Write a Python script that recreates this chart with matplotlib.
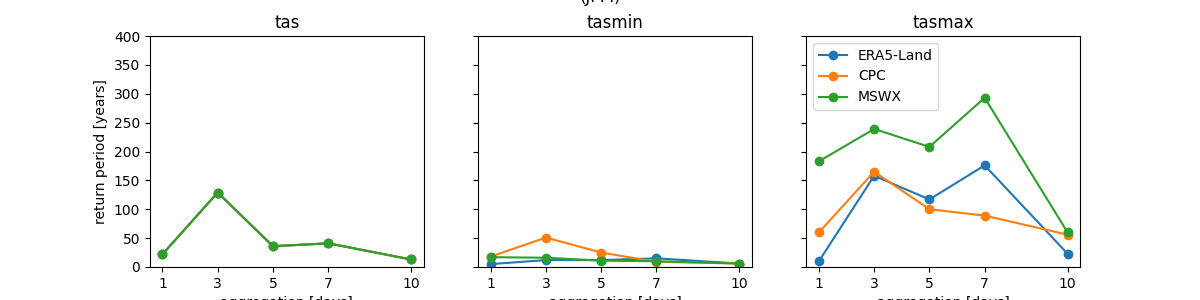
import numpy as np
import matplotlib
matplotlib.use('Agg')
import matplotlib.pyplot as plt

aggregation = [1, 3, 5, 7, 10]
datasets = ['ERA5-Land', 'CPC', 'MSWX']
variables = ['tas', 'tasmin', 'tasmax']

# return periods [years] per variable, per dataset
tas_era5 = [22, 129, 36, 41, 13]
tas_cpc = [22, 129, 36, 41, 13]
tas_mswx = [22, 129, 36, 41, 13]

tasmin_era5 = [5, 12, 12, 15, 6]
tasmin_cpc = [18, 51, 25, 9, 6]
tasmin_mswx = [17, 16, 11, 10, 6]

tasmax_era5 = [10, 158, 117, 176, 23]
tasmax_cpc = [60, 165, 100, 89, 56]
tasmax_mswx = [183, 239, 208, 293, 60]

values = {
    'tas': [tas_era5, tas_cpc, tas_mswx],
    'tasmin': [tasmin_era5, tasmin_cpc, tasmin_mswx],
    'tasmax': [tasmax_era5, tasmax_cpc, tasmax_mswx],
}

fig, axes = plt.subplots(1, 3, figsize=(12, 3), sharey=True)
fig.suptitle('(JFM)', y=1.04)

for ax, var in zip(axes, variables):
    for name, vals in zip(datasets, values[var]):
        ax.plot(aggregation, vals, marker='o', label=name)
    ax.set_title(var)
    ax.set_xticks(aggregation)
    ax.set_xlabel('aggregation [days]')
    ax.set_ylim(0, 400)

axes[0].set_ylabel('return period [years]')
axes[2].legend(loc='upper left')

plt.savefig('out.png', dpi=100)
